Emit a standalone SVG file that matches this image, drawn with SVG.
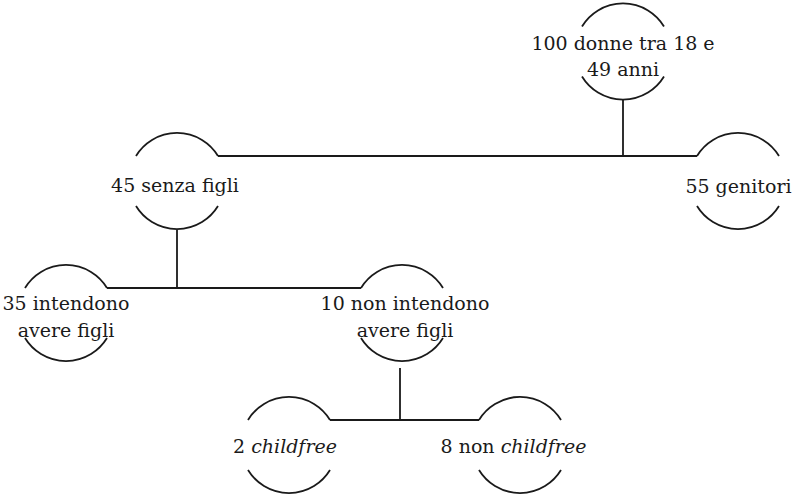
<svg xmlns="http://www.w3.org/2000/svg" width="798" height="495" viewBox="0 0 798 495">
<style>
.arc{fill:none;stroke:#1a1a1a;stroke-width:1.8}
.ln{fill:none;stroke:#1a1a1a;stroke-width:1.8}
.t{font-family:'DejaVu Serif',serif;font-size:19px;fill:#1a1a1a;text-anchor:middle}
.it{font-style:italic}
</style>
<rect width="798" height="495" fill="#ffffff"/>
<g id="connectors">
<path class="ln" d="M623 99.5V156M218 156H697"/>
<path class="ln" d="M177 230V288M107 288H361"/>
<path class="ln" d="M400 368V420M330 420H479"/>
</g>
<g id="n100">
<path class="arc" d="M582 26.5A48 48 0 0 1 664 26.5M582 76.5A48 48 0 0 0 664 76.5"/>
<text class="t" x="623" y="50">100 donne tra 18 e</text>
<text class="t" x="623" y="76">49 anni</text>
</g>
<g id="n45">
<path class="arc" d="M136 156A48 48 0 0 1 218 156M136 206A48 48 0 0 0 218 206"/>
<text class="t" x="175" y="192">45 senza figli</text>
</g>
<g id="n55">
<path class="arc" d="M697 156A48 48 0 0 1 779 156M697 206A48 48 0 0 0 779 206"/>
<text class="t" x="738.5" y="193">55 genitori</text>
</g>
<g id="n35">
<path class="arc" d="M25 288A48 48 0 0 1 107 288M25 338A48 48 0 0 0 107 338"/>
<text class="t" x="66" y="310">35 intendono</text>
<text class="t" x="66" y="337">avere figli</text>
</g>
<g id="n10">
<path class="arc" d="M361 288A48 48 0 0 1 443 288M361 338A48 48 0 0 0 443 338"/>
<text class="t" x="405" y="310">10 non intendono</text>
<text class="t" x="405" y="337">avere figli</text>
</g>
<g id="n2">
<path class="arc" d="M248 420A48 48 0 0 1 330 420M248 470A48 48 0 0 0 330 470"/>
<text class="t" x="285" y="453">2 <tspan class="it">childfree</tspan></text>
</g>
<g id="n8">
<path class="arc" d="M479 420A48 48 0 0 1 561 420M479 470A48 48 0 0 0 561 470"/>
<text class="t" x="513.5" y="453">8 non <tspan class="it">childfree</tspan></text>
</g>
</svg>
